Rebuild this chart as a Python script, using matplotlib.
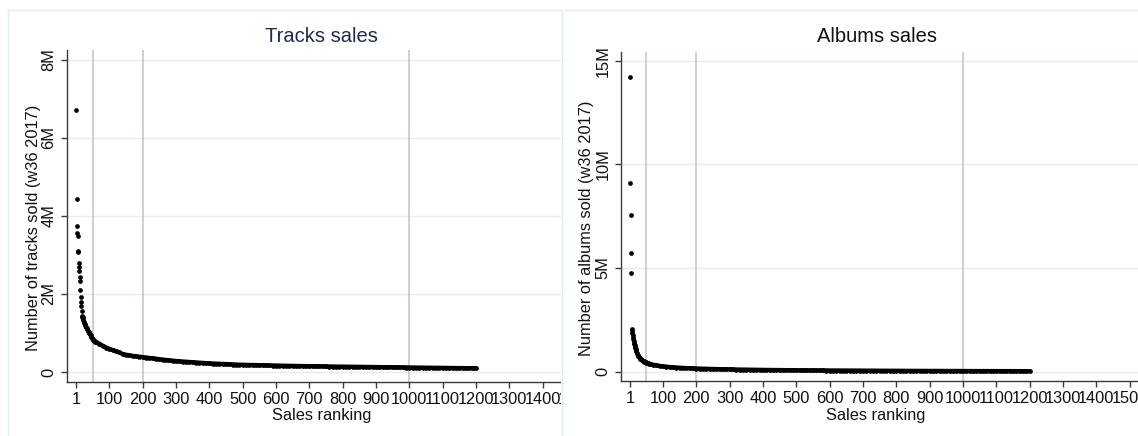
import matplotlib
matplotlib.use("Agg")
import matplotlib.pyplot as plt
from matplotlib.patches import Rectangle
from matplotlib.lines import Line2D

plt.rcParams["font.family"] = ["Liberation Sans", "DejaVu Sans"]

# Sales rank of each plotted title (top ranks one by one, then sampled)
ranks = list(range(1, 20)) + list(range(20, 60, 2)) + list(range(60, 1201, 10))
n_top = 19  # isolated best sellers drawn as separate dots

# Weekly track sales, thousands of units
tracks_k = [
    6720, 4430, 3740, 3570, 3490, 3110, 3060, 2780, 2700, 2580,
    2440, 2320, 2100, 1910, 1800, 1690, 1570, 1420, 1410,
    1400, 1340, 1280, 1230, 1190, 1150, 1120, 1090, 1060, 1030,
    1000, 970, 940, 900, 870, 840, 815, 795, 780, 770,
    760, 720, 670, 625, 590, 560, 530, 500, 455, 440,
    425, 410, 400, 390, 380, 368, 357, 346, 336, 325,
    315, 305, 296, 287, 278, 271, 265, 259, 253, 247,
    241, 235, 229, 223, 218, 214, 210, 206, 202, 198,
    194, 190, 187, 184, 181, 179, 177, 175, 173, 171,
    169, 167, 165, 163, 161, 159, 158, 156, 155, 153,
    152, 150, 149, 148, 146, 145, 144, 142, 141, 140,
    138, 137, 136, 134, 133, 132, 131, 130, 128, 127,
    126, 125, 124, 123, 122, 121, 120, 119, 118, 117,
    116, 115, 114, 113, 112, 111, 110, 109, 108, 107,
    106, 105, 104, 103, 102, 101, 100, 99, 98, 97,
    96, 95, 94, 93, 92,
]

# Weekly album sales, thousands of units
albums_k = [
    14220, 9080, 7560, 5740, 4770, 2050, 1950, 1850, 1750, 1660,
    1570, 1490, 1410, 1340, 1270, 1200, 1140, 1080, 1030,
    980, 900, 830, 770, 720, 675, 640, 605, 575, 550,
    525, 505, 485, 468, 452, 438, 425, 412, 400, 390,
    380, 340, 308, 282, 260, 242, 227, 214, 203, 193,
    184, 176, 169, 162, 156, 150, 145, 140, 135, 131,
    127, 123, 119, 116, 113, 110, 107, 104, 101, 99,
    96, 94, 92, 90, 88, 86, 84, 82, 80, 79,
    77, 76, 74, 73, 71, 70, 69, 67, 66, 65,
    64, 63, 62, 61, 60, 59, 58, 57, 56, 55,
    54, 53, 52, 52, 51, 50, 49, 49, 48, 47,
    47, 46, 45, 45, 44, 43, 43, 42, 42, 41,
    41, 40, 40, 39, 39, 38, 38, 37, 37, 36,
    36, 35, 35, 34, 34, 33, 33, 33, 32, 32,
    31, 31, 31, 30, 30, 30, 29, 29, 28, 28,
    28, 28, 27, 27, 27,
]

x_ticks = [1] + list(range(100, 1501, 100))
x_tick_labels = [str(t) for t in x_ticks]
ref_ranks = [50, 200, 1000]

tracks_yticks = [0, 2e6, 4e6, 6e6, 8e6]
tracks_ylabels = ["0", "2M", "4M", "6M", "8M"]
albums_yticks = [0, 5e6, 10e6, 15e6]
albums_ylabels = ["0", "5M", "10M", "15M"]

W, H = 1138, 436
fig = plt.figure(figsize=(W / 100, H / 100), dpi=100)
fig.patch.set_facecolor("white")

LABEL_SIZE = 11.8


def px_box(left, right, top, bottom):
    return [left / W, 1 - bottom / H, (right - left) / W, (bottom - top) / H]


def style_panel(ax, values_k, yticks, ylabels, ylim, xlim):
    ax.set_xlim(*xlim)
    ax.set_ylim(*ylim)
    for s in ("top", "right"):
        ax.spines[s].set_visible(False)
    for s in ("left", "bottom"):
        ax.spines[s].set_color("#3a3a3a")
        ax.spines[s].set_linewidth(1.0)
    ax.set_yticks(yticks)
    ax.set_yticklabels(ylabels, rotation=90, va="center")
    ax.set_xticks(x_ticks)
    ax.set_xticklabels(x_tick_labels)
    ax.tick_params(axis="both", direction="out", length=4, width=1.0,
                   color="#3a3a3a", labelsize=LABEL_SIZE,
                   labelcolor="#111111", pad=3.5)
    for y in yticks:
        ax.axhline(y, color="#e4eeee", lw=1.0, zorder=0)
    for r in ref_ranks:
        ax.axvline(r, color="#c2c2c2", lw=1.1, zorder=1)
    vals = [v * 1000 for v in values_k]
    # every title as a dot
    ax.plot(ranks, vals, "o", color="black",
            markersize=3.4, markeredgewidth=0, zorder=3, clip_on=False)
    # the long tail, where the dots pile up into a solid band
    ax.plot(ranks[n_top:], vals[n_top:], "-", color="black", lw=3.2,
            solid_capstyle="round", solid_joinstyle="round", zorder=3)


# Tracks panel
ax1 = fig.add_axes(px_box(66.7, 586, 50, 381.7))
style_panel(ax1, tracks_k, tracks_yticks, tracks_ylabels,
            (-0.25e6, 8.245e6), (-28, 1530))
ax1.set_zorder(0)

# White band hiding the tracks axis where the albums panel begins
fig.add_artist(Rectangle((561 / W, 0), 1, 1, transform=fig.transFigure,
                         facecolor="white", edgecolor="none", zorder=1))

# Albums panel
ax2 = fig.add_axes(px_box(621, 1138, 51.7, 380.7))
style_panel(ax2, albums_k, albums_yticks, albums_ylabels,
            (-0.43e6, 15.43e6), (-26, 1525))
ax2.set_zorder(2)
ax2.patch.set_alpha(0)

# Titles and axis titles
fig.text(321 / W, 1 - 36 / H, "Tracks sales", ha="center", va="center",
         fontsize=14.5, color="#1f2b4a", zorder=4)
fig.text(877 / W, 1 - 36 / H, "Albums sales", ha="center", va="center",
         fontsize=14.5, color="#111111", zorder=4)
fig.text(322 / W, 1 - 415 / H, "Sales ranking", ha="center", va="center",
         fontsize=LABEL_SIZE, color="#111111", zorder=4)
fig.text(876 / W, 1 - 415 / H, "Sales ranking", ha="center", va="center",
         fontsize=LABEL_SIZE, color="#111111", zorder=4)
fig.text(34 / W, 1 - 228 / H, "Number of tracks sold (w36 2017)", rotation=90,
         ha="center", va="center", fontsize=LABEL_SIZE, color="#111111", zorder=4)
fig.text(587 / W, 1 - 228 / H, "Number of albums sold (w36 2017)", rotation=90,
         ha="center", va="center", fontsize=LABEL_SIZE, color="#111111", zorder=4)

# Light frames around the two graph regions
frame_kw = dict(transform=fig.transFigure, color="#e3ecee", lw=1.0, zorder=5)
fig.add_artist(Line2D([8 / W, 561 / W], [1 - 10 / H, 1 - 10 / H], **frame_kw))
fig.add_artist(Line2D([8 / W, 8 / W], [0, 1 - 10 / H], **frame_kw))
fig.add_artist(Line2D([562 / W, 562 / W], [0, 1 - 10 / H], **frame_kw))
fig.add_artist(Line2D([565 / W, 1], [1 - 10 / H, 1 - 10 / H], **frame_kw))

fig.savefig("out.png", dpi=100, facecolor="white")
